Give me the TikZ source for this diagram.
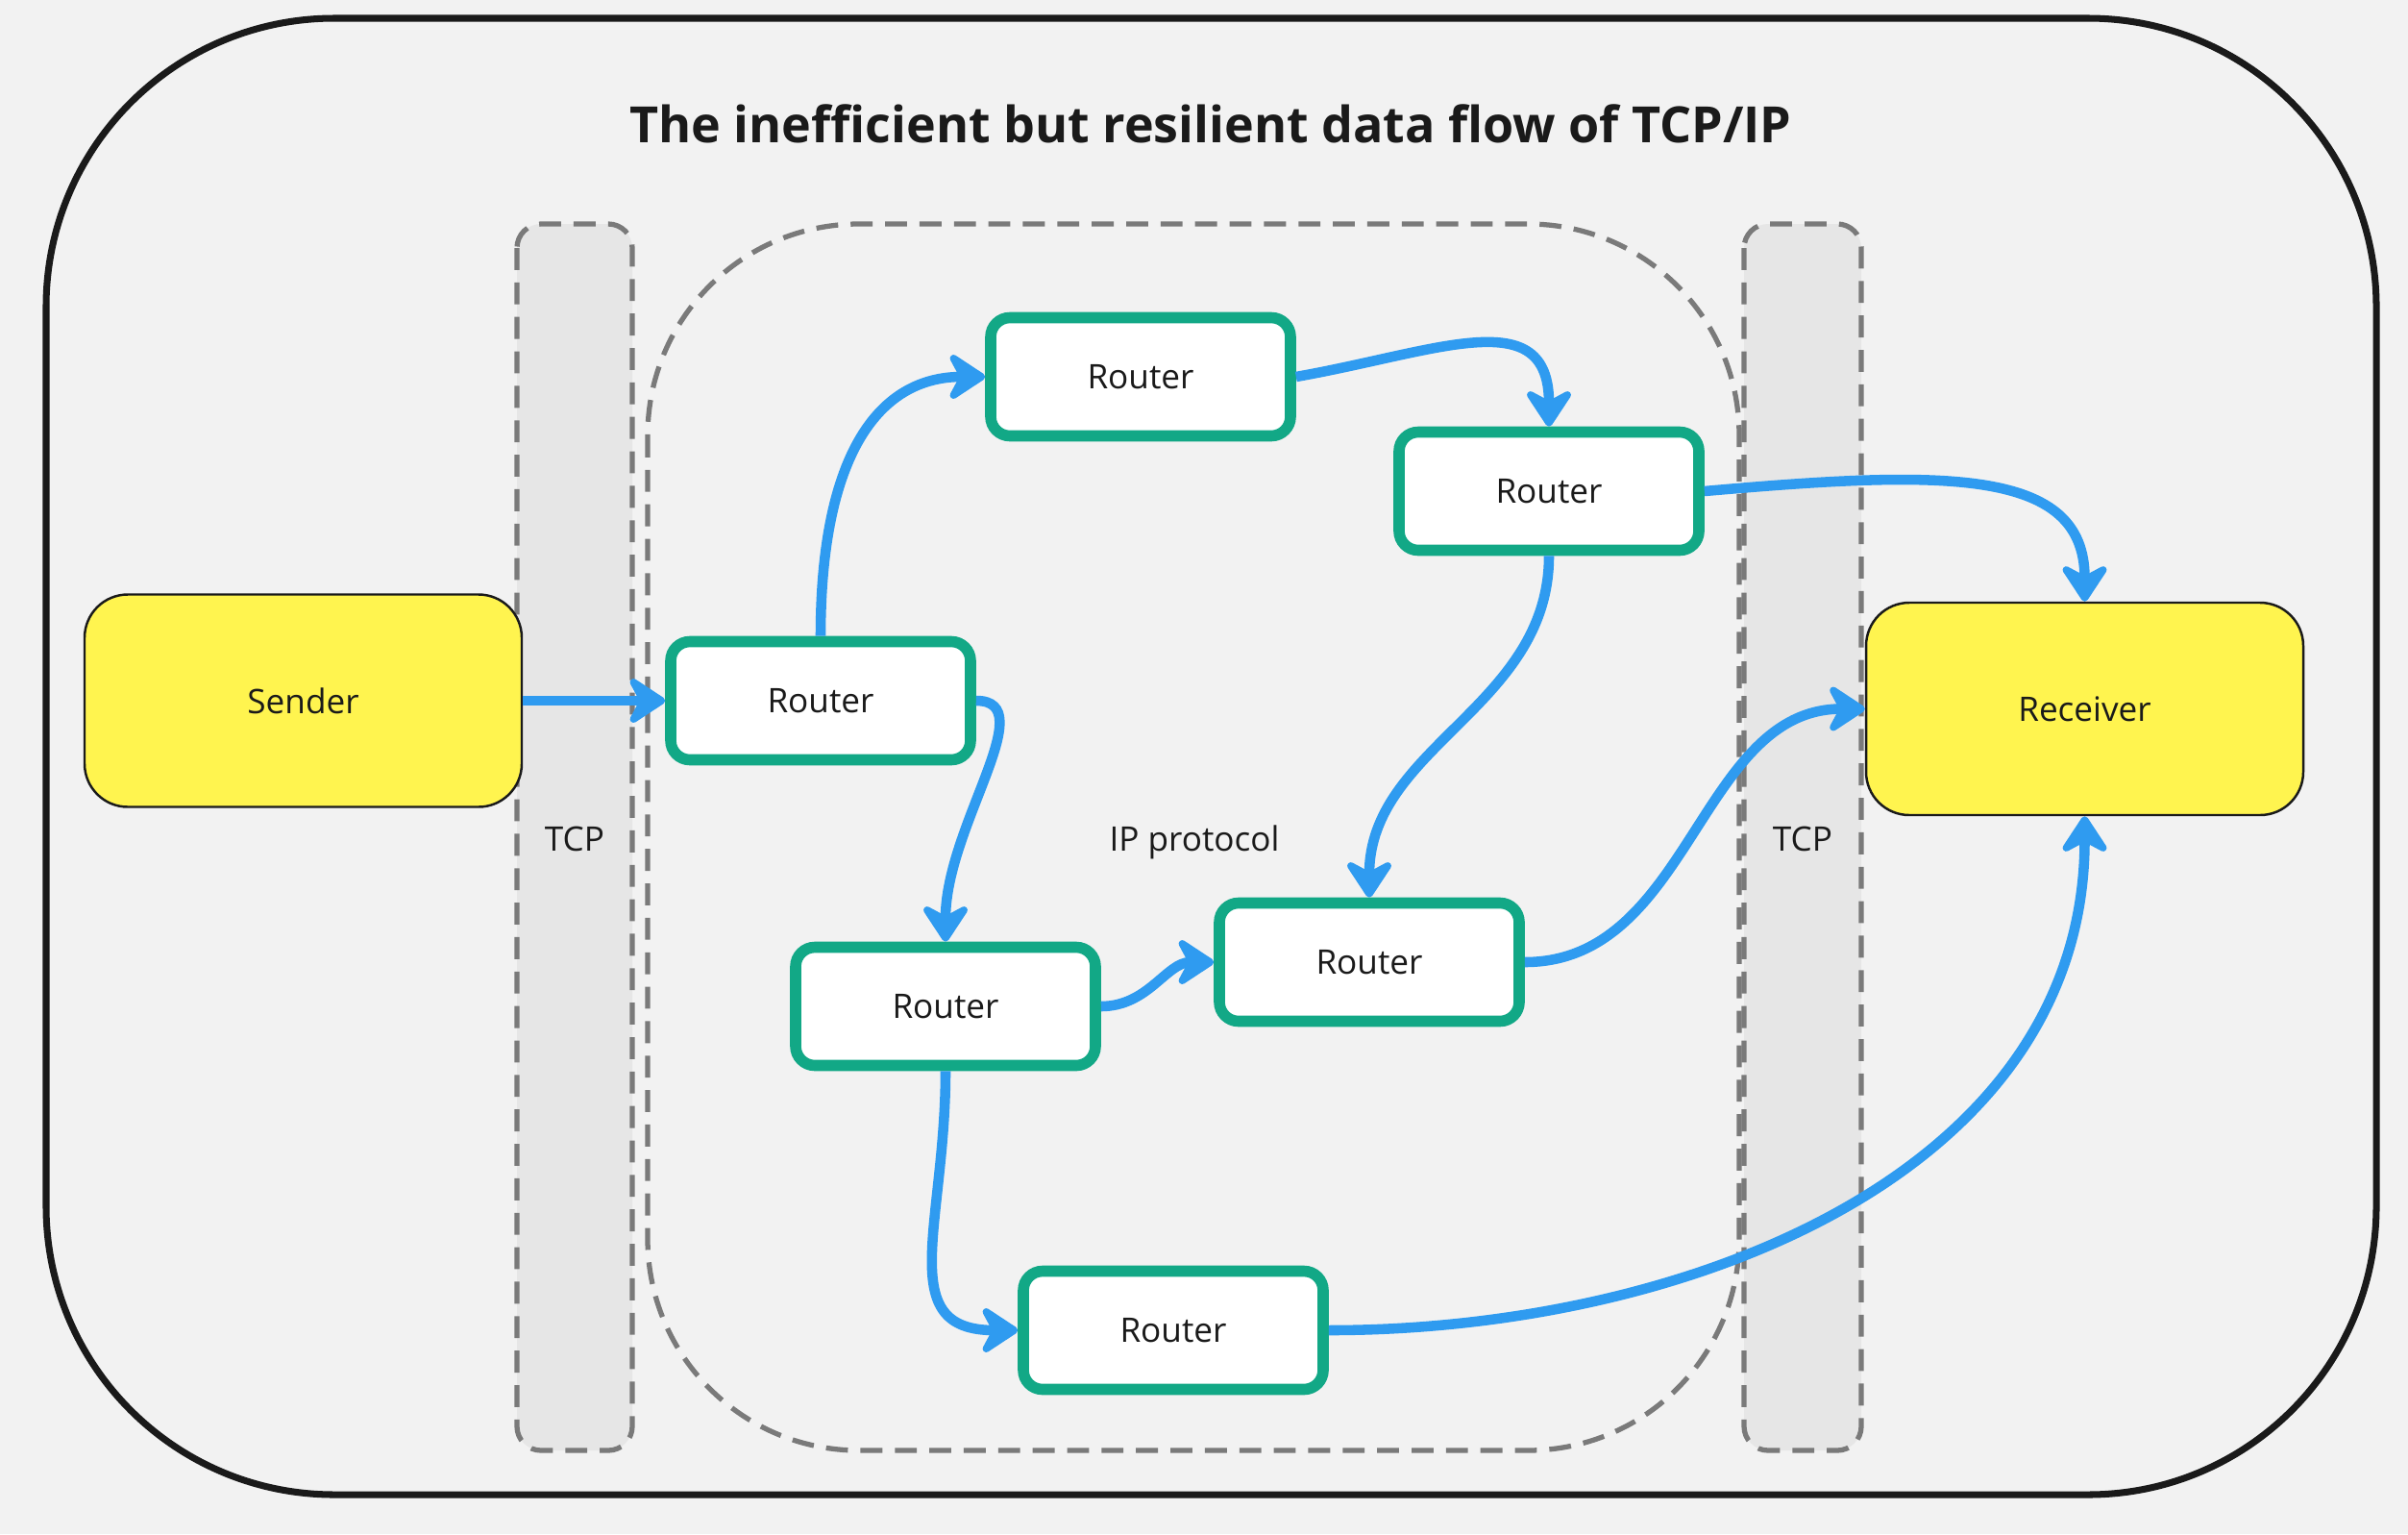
\documentclass[tikz,border=0pt]{standalone}
\usepackage{fontspec}
\setmainfont{Open Sans}
\usetikzlibrary{arrows.meta}
\definecolor{bgGray}{HTML}{F2F2F2}
\definecolor{colGray}{HTML}{E6E6E6}
\definecolor{dashGray}{HTML}{7A7A7A}
\definecolor{inkBlack}{HTML}{1A1A1A}
\definecolor{routerTeal}{HTML}{12A886}
\definecolor{flowBlue}{HTML}{2F9BF0}
\definecolor{hostYellow}{HTML}{FFF44F}

\begin{document}
\begin{tikzpicture}[
	router/.style={draw=routerTeal,line width=3.3pt,fill=white,rounded corners=0.2cm,minimum width=3.12cm,minimum height=1.23cm,font=\fontsize{10}{12}\selectfont,text=inkBlack},
	host/.style={draw=inkBlack,line width=0.7pt,fill=hostYellow,rounded corners=0.45cm,minimum width=4.55cm,minimum height=2.21cm,font=\fontsize{10}{12}\selectfont,text=inkBlack},
	layer/.style={draw=dashGray,line width=1.5pt,dash pattern=on 6.5pt off 3.7pt},
	flow/.style={draw=flowBlue,line width=3pt,-{Stealth[length=13pt,width=17pt,inset=4.5pt,round]}},
	tag/.style={anchor=base,font=\fontsize{10}{12}\selectfont,text=inkBlack}]
	% background and frame
	\fill[bgGray] (0,0) rectangle (25.06,-15.96);
	\useasboundingbox (0,0) rectangle (25.06,-15.96);
	\draw[inkBlack,line width=2pt,rounded corners=3cm] (0.48,-0.19) rectangle (24.73,-15.55);
	% TCP columns and IP region
	\filldraw[layer,fill=colGray,rounded corners=0.25cm] (5.38,-2.33) rectangle (6.58,-15.09);
	\filldraw[layer,fill=colGray,rounded corners=0.25cm] (18.15,-2.33) rectangle (19.37,-15.09);
	\draw[layer,rounded corners=2.2cm] (6.74,-2.33) rectangle (18.10,-15.09);
	\node[anchor=base,font=\fontsize{14.8}{18}\selectfont\bfseries,text=inkBlack] (title) at (12.60,-1.48) {The inefficient but resilient data flow of TCP/IP};
	\node[tag] (tcpL) at (5.98,-8.85) {TCP};
	\node[tag] (tcpR) at (18.76,-8.85) {TCP};
	\node[tag] (ip) at (12.43,-8.85) {IP protocol};
	% hosts
	\node[host] (sender) at (3.155,-7.29) {Sender};
	\node[host] (receiver) at (21.695,-7.375) {Receiver};
	% routers
	\node[router] (r1) at (11.87,-3.92) {Router};
	\node[router] (r2) at (16.12,-5.11) {Router};
	\node[router] (r3) at (8.54,-7.29) {Router};
	\node[router] (r4) at (9.84,-10.47) {Router};
	\node[router] (r5) at (14.25,-10.01) {Router};
	\node[router] (r6) at (12.21,-13.84) {Router};
	% flows
	\draw[flow] (sender.east) -- (r3.west);
	\draw[flow] (r3.north) .. controls +(90:1.9) and +(180:1.1) .. (r1.west);
	\draw[flow] (r1.east) .. controls +(10:1.5) and +(90:1.3) .. (r2.north);
	\draw[flow] (r2.east) .. controls +(5:2.5) and +(90:1.4) .. (receiver.north);
	\draw[flow] (r2.south) to[out=-90,in=90] (r5.north);
	\draw[flow] (r3.east) .. controls +(0:0.7) and +(90:1.2) .. (r4.north);
	\draw[flow] (r4.east) to[out=0,in=180] (r5.west);
	\draw[flow] (r5.east) to[out=0,in=180] (receiver.west);
	\draw[flow] (r4.south) .. controls +(-90:1.6) and +(180:1.3) .. (r6.west);
	\draw[flow] (r6.east) to[out=0,in=-90] (receiver.south);
\end{tikzpicture}
\end{document}
